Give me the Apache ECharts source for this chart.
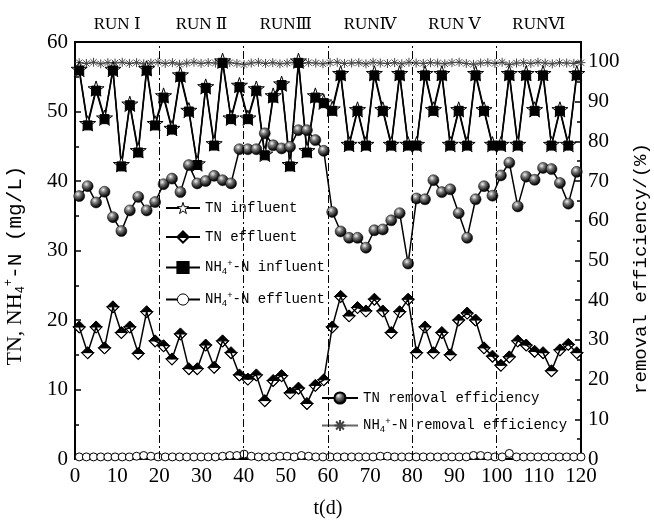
<!DOCTYPE html>
<html><head><meta charset="utf-8">
<script src="https://cdn.jsdelivr.net/npm/echarts@6/dist/echarts.min.js"></script>
<style>html,body{margin:0;padding:0;background:#fff}#c{width:654px;height:526px}</style>
</head><body><div id="c"></div><script>
// ---- data ----
const tnDays = [1,3,5,7,9,11,13,15,17,19,21,23,25,27,29,31,33,35,37,39,41,43,45,47,49,51,53,55,57,59,
  61,63,65,67,69,71,73,75,77,79,81,83,85,87,89,91,93,95,97,99,101,103,105,107,109,111,113,115,117,119];
const nhDays = [1,2.7,4.4,6.1,7.8,9.5,11.2,12.9,14.6,16.3,18,19.7,21.4,23.1,24.8,26.5,28.2,29.9,31.6,33.3,
  35,36.7,38.4,40.1,41.8,43.5,45.2,46.9,48.6,50.3,52,53.7,55.4,57.1,58.8,60.5,62.2,63.9,65.6,67.3,
  69,70.7,72.4,74.1,75.8,77.5,79.2,80.9,82.6,84.3,86,87.7,89.4,91.1,92.8,94.5,96.2,97.9,99.6,101.3,
  103,104.7,106.4,108.1,109.8,111.5,113.2,114.9,116.6,118.3,120];
const tnInfluent = [56.1,48.3,53.3,49.1,56.1,42.4,51.1,44.4,56.2,48.3,52.3,47.6,55.3,50.2,42.5,53.6,45.4,57.3,49.1,53.8,
  49.1,53.3,43.9,52.3,54.0,42.4,57.3,44.4,52.3,51.4,50.4,55.5,45.3,50.3,45.3,55.5,50.3,45.3,55.5,45.3,
  45.3,55.5,50.3,55.5,45.3,50.3,45.3,55.5,50.3,45.3,45.3,55.5,45.3,55.5,50.3,55.5,45.3,50.3,45.3,55.5];
const tnEffluent = [19.0,15.3,19.0,16.0,21.9,18.2,19.0,15.2,21.2,17.0,16.3,14.4,18.0,13.0,13.0,16.4,13.2,17.0,15.3,12.1,
  11.5,12.1,8.4,11.3,12.0,9.5,10.2,8.0,10.6,11.4,19.0,23.4,20.6,21.8,21.3,23.0,21.3,18.2,21.2,23.0,
  15.3,19.0,15.3,18.2,15.0,20.0,21.0,20.0,16.0,14.8,13.5,14.7,17.0,16.4,15.5,15.3,12.7,15.7,16.5,15.3];
const nhInfluent = [55.9,48.0,53.0,48.9,55.9,42.1,50.9,44.1,55.9,48.0,52.0,47.4,55.0,50.0,42.3,53.4,45.1,57.0,48.9,53.5,
  48.9,53.0,43.7,52.0,53.8,42.1,57.0,44.1,52.0,51.2,50.1,55.2,45.1,50.1,45.1,55.2,50.1,45.1,55.2,45.1,
  45.1,55.2,50.1,55.2,45.1,50.1,45.1,55.2,50.1,45.1,45.1,55.2,45.1,55.2,50.1,55.2,45.1,50.1,45.1,55.2];
const nhEffluent = [0.3,0.3,0.3,0.3,0.3,0.3,0.3,0.3,0.4,0.5, 0.4,0.3,0.3,0.3,0.3,0.3,0.3,0.3,0.3,0.3,
  0.4,0.5,0.5,0.7,0.4,0.3,0.3,0.3,0.4,0.4, 0.3,0.5,0.4,0.3,0.3,0.3,0.3,0.3,0.3,0.3,
  0.3,0.3,0.4,0.4,0.3,0.3,0.3,0.3,0.3,0.3, 0.3,0.3,0.3,0.3,0.3,0.5,0.5,0.4,0.3,0.3,
  0.8,0.3,0.3,0.3,0.3,0.3,0.3,0.3,0.3,0.3,0.3];
const tnRemoval = [66.2,68.7,64.6,67.3,60.9,57.4,62.6,66.0,62.6,64.7,69.2,70.6,67.2,74.0,69.4,70.0,71.3,70.2,69.4,78.0,
  78.0,78.0,82.0,79.0,78.2,78.6,82.8,82.8,80.3,77.6,62.2,57.3,55.7,55.7,53.2,57.6,57.8,60.1,61.9,49.2,
  65.6,65.4,70.2,67.2,67.9,61.9,55.7,65.4,68.7,66.3,71.4,74.6,63.6,71.1,70.3,73.3,73.0,69.5,64.3,72.3];
const nhRemoval = [99.8,99.6,99.9,99.5,99.8,99.7,99.9,99.6,99.8,99.5, 99.7,99.9,99.6,99.8,99.4,99.7,99.9,99.6,99.8,99.7,
  99.5,99.8,99.6,99.3,99.7,99.9,99.6,99.8,99.5,99.7, 99.9,99.6,99.8,99.7,99.5,99.8,99.9,99.6,99.7,99.8,
  99.5,99.9,99.7,99.6,99.8,99.5,99.9,99.7,99.6,99.8, 99.7,99.5,99.8,99.9,99.6,99.4,99.7,99.8,99.6,99.9,
  99.3,99.7,99.8,99.6,99.9,99.7,99.5,99.8,99.7,99.6,99.8];
const runBounds = [0,20,40,60,80,100,120];
const runNames = ['RUN Ⅰ','RUN Ⅱ','RUNⅢ','RUNⅣ','RUN Ⅴ','RUNⅥ'];
const xTicks = {min:0, max:120, interval:10};
const yLeft = {min:0, max:60, interval:10};
const yRight = {min:0, max:105, interval:10, labelMax:100};

// ---- drawing ----
const pairs = (xs, ys) => xs.map((x,i)=>[x, ys[i]]);
const STAR = 'path://M0,-100L22.45,-30.9L95.1,-30.9L36.33,11.8L58.78,80.9L0,38.2L-58.78,80.9L-36.33,11.8L-95.1,-30.9L-22.45,-30.9Z';
const HALF_DIA = 'path://M0,-10L10,0L0,10L-10,0Z M-10,0L0,10L10,0Z';
const LOWER_TRI = 'path://M-10,0L10,0L0,10Z';
const ASTER = 'path://M-10,0L10,0M0,-10L0,10M-7,-7L7,7M-7,7L7,-7';
const MONO = 'Liberation Mono';
const SERIF = 'Liberation Serif, DejaVu Serif, serif';
const ball = {type:'radial', x:0.38, y:0.32, r:0.7, colorStops:[{offset:0,color:'#f2f2f2'},{offset:0.35,color:'#777'},{offset:0.8,color:'#111'},{offset:1,color:'#000'}]};

const richSS = {
  sub:{fontSize:9, fontFamily:MONO, verticalAlign:'bottom', padding:[8,0,0,0], color:'#000'},
  sup:{fontSize:9, fontFamily:MONO, verticalAlign:'top', padding:[0,0,8,0], color:'#000'}
};
const fmtName = n => n.replace('NH4+', 'NH{sub|4}{sup|+}');

const N = {
  tnIn:'TN influent', tnEff:'TN effluent', nhIn:'NH4+-N influent', nhEff:'NH4+-N effluent',
  tnRem:'TN removal efficiency', nhRem:'NH4+-N removal efficiency'
};

const chart = echarts.init(document.getElementById('c'), null, {renderer:'canvas'});
const option = {
  animation:false,
  backgroundColor:'#fff',
  grid:{left:75, right:73, top:42, bottom:67, outerBoundsMode:'none', containLabel:false,
        show:true, borderColor:'#000', borderWidth:2, backgroundColor:'transparent'},
  legend:[
    {data:[{name:N.tnIn, itemStyle:{color:'#fff', borderColor:'#000', borderWidth:1}}, N.tnEff, N.nhIn,
           {name:N.nhEff, itemStyle:{color:'#fff', borderColor:'#000', borderWidth:1}}],
     orient:'vertical', left:160, top:196, itemWidth:34, itemHeight:14, itemGap:15,
     formatter:fmtName, textStyle:{fontFamily:MONO, fontSize:14, color:'#000', rich:richSS}, selectedMode:false},
    {data:[N.tnRem, N.nhRem], orient:'vertical', left:316, top:386, itemWidth:36, itemHeight:14, itemGap:12,
     formatter:fmtName, textStyle:{fontFamily:MONO, fontSize:14, color:'#000', rich:richSS}, selectedMode:false}
  ],
  xAxis:{type:'value', min:xTicks.min, max:xTicks.max, interval:xTicks.interval,
    axisLine:{onZero:false, lineStyle:{color:'#000', width:2}},
    axisTick:{inside:true, length:4, lineStyle:{color:'#000', width:1.5}},
    axisLabel:{color:'#000', fontFamily:SERIF, fontSize:21, margin:7},
    splitLine:{show:false},
    name:'t(d)', nameLocation:'middle', nameGap:40, nameTextStyle:{color:'#000', fontFamily:SERIF, fontSize:20}},
  yAxis:[
    {type:'value', min:yLeft.min, max:yLeft.max, interval:yLeft.interval, position:'left',
     axisLine:{show:true, lineStyle:{color:'#000', width:2}},
     axisTick:{inside:true, length:6, lineStyle:{color:'#000', width:1.5}},
     minorTick:{show:true, splitNumber:2, length:4, lineStyle:{color:'#000', width:1.5}},
     axisLabel:{color:'#000', fontFamily:SERIF, fontSize:21, margin:7},
     splitLine:{show:false},
     name:'{a|TN, NH}{sub|4}{sup|+}-N (mg/L)', nameLocation:'middle', nameGap:48, nameRotate:90,
     nameTextStyle:{color:'#000', fontFamily:MONO, fontSize:21, padding:[0,0,0,-30],
       rich:{a:{fontFamily:SERIF, fontSize:22, color:'#000'},
             sub:{fontSize:12, fontFamily:MONO, verticalAlign:'bottom', padding:[12,0,0,0]},
             sup:{fontSize:12, fontFamily:MONO, verticalAlign:'top', padding:[0,0,12,0]}}}},
    {type:'value', min:yRight.min, max:yRight.max, interval:yRight.interval, position:'right',
     axisLine:{show:true, lineStyle:{color:'#000', width:2}},
     axisTick:{inside:true, length:6, lineStyle:{color:'#000', width:1.5}},
     minorTick:{show:true, splitNumber:2, length:4, lineStyle:{color:'#000', width:1.5}},
     axisLabel:{color:'#000', fontFamily:SERIF, fontSize:21, margin:7, formatter:v => v > yRight.labelMax ? '' : String(v)},
     splitLine:{show:false},
     name:'removal efficiency/(%)', nameLocation:'middle', nameGap:50, nameRotate:90,
     nameTextStyle:{color:'#000', fontFamily:MONO, fontSize:19, padding:[0,0,0,-36]}}
  ],
  series:[
    {name:N.nhRem, type:'line', yAxisIndex:1, data:pairs(nhDays, nhRemoval),
     symbol:ASTER, symbolSize:9, itemStyle:{color:'#fff', borderColor:'#444', borderWidth:1},
     lineStyle:{color:'#666', width:1},
     markLine:{silent:true, symbol:'none', label:{show:false},
       lineStyle:{color:'#000', width:1, type:[8,3,2,3]},
       data:runBounds.slice(1,-1).map(v=>({xAxis:v}))},
     markArea:{silent:true, itemStyle:{color:'transparent'},
       label:{show:true, position:'top', distance:9, color:'#000', fontFamily:SERIF, fontSize:17},
       data:runNames.map((n,i)=>[{xAxis:runBounds[i], name:n},{xAxis:runBounds[i+1]}])}},
    {name:N.nhEff, type:'line', data:pairs(nhDays, nhEffluent),
     symbol:'circle', symbolSize:8, itemStyle:{color:'#fff', borderColor:'#000', borderWidth:1},
     lineStyle:{color:'#000', width:1}},
    {name:N.tnIn, type:'line', data:pairs(tnDays, tnInfluent),
     symbol:STAR, symbolSize:16, symbolKeepAspect:true, itemStyle:{color:'#fff', borderColor:'#000', borderWidth:1},
     lineStyle:{color:'#000', width:1.5}},
    {name:N.nhIn, type:'line', data:pairs(tnDays, nhInfluent),
     symbol:'rect', symbolSize:9, itemStyle:{color:'#000', borderColor:'#000', borderWidth:1},
     lineStyle:{color:'#000', width:1.5}},
    {name:N.tnEff, type:'line', data:pairs(tnDays, tnEffluent),
     symbol:HALF_DIA, symbolSize:[12,12], itemStyle:{color:'#000', borderColor:'#000', borderWidth:1},
     lineStyle:{color:'#000', width:1.5}},
    {name:'tnEffLower', type:'scatter', silent:true, data:pairs(tnDays, tnEffluent),
     symbol:LOWER_TRI, symbolSize:[12,6], symbolOffset:[0,3], itemStyle:{color:'#fff', borderColor:'#000', borderWidth:1}},
    {name:N.tnRem, type:'line', yAxisIndex:1, data:pairs(tnDays, tnRemoval),
     symbol:'circle', symbolSize:11, itemStyle:{color:ball, borderColor:'#000', borderWidth:0.5},
     lineStyle:{color:'#000', width:1.5}}
  ]
};
chart.setOption(option);
</script></body></html>
